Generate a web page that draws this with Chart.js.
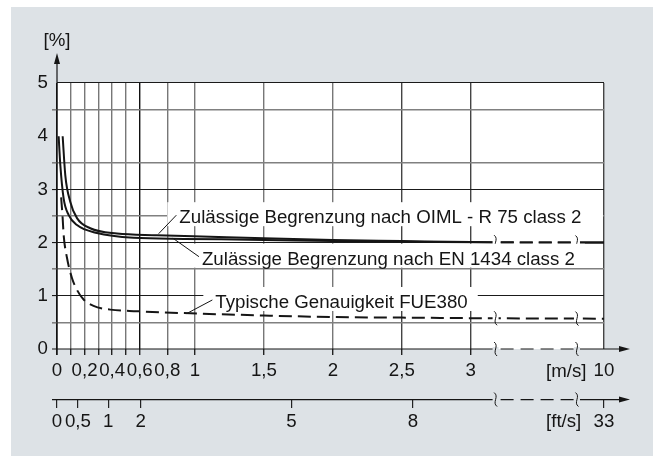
<!DOCTYPE html>
<html>
<head>
<meta charset="utf-8">
<script src="https://cdn.jsdelivr.net/npm/chart.js@4.4.1/dist/chart.umd.min.js"></script>
<style>
  html, body { margin: 0; padding: 0; background: #fff; }
  canvas { display: block; }
</style>
</head>
<body>
<canvas id="chart" width="653" height="456"></canvas>
<script>
// values: flow speed in m/s, error in %
const oimlSpeed = [0.041, 0.06, 0.096, 0.145, 0.241, 0.435, 0.725, 1.11, 1.5, 2, 2.5, 3, 10];
const oimlError = [4.0, 3.27, 2.77, 2.46, 2.27, 2.17, 2.14, 2.11, 2.08, 2.05, 2.03, 2.01, 2.0];
const enSpeed = [0.012, 0.024, 0.048, 0.084, 0.145, 0.29, 0.555, 0.92, 1.5, 2, 2.5, 3, 10];
const enError = [4.0, 3.46, 2.83, 2.52, 2.33, 2.18, 2.09, 2.07, 2.05, 2.03, 2.015, 2.005, 2.0];
const typSpeed = [0.03, 0.041, 0.048, 0.072, 0.109, 0.145, 0.193, 0.265, 0.386, 0.58, 0.915, 1.5, 2, 2.5, 3, 10];
const typError = [2.85, 2.46, 2.15, 1.72, 1.33, 1.11, 0.93, 0.81, 0.74, 0.71, 0.675, 0.63, 0.6, 0.59, 0.58, 0.57];

const msTicks = [0, 0.1, 0.2, 0.3, 0.4, 0.5, 0.6, 0.8, 1, 1.5, 2, 2.5, 3, 10];
const msLabels = ['0', '', '0,2', '', '0,4', '', '0,6', '0,8', '1', '1,5', '2', '2,5', '3', '10'];
const ftLabels = ['0', '0,5', '1', '2', '5', '8', '33'];
const ftTickAt = [0, 0.152, 0.372, 0.606, 1.7, 2.58, 10]; // where the ft/s ticks sit, in m/s
const pctTicks = [0, 0.5, 1, 1.5, 2, 2.5, 3, 3.5, 4, 4.5, 5];

const notes = [
  { text: 'Zulässige Begrenzung nach OIML - R 75 class 2', at: [0.737, 2.167], textAt: [0.887, 2.365], toEdge: true },
  { text: 'Zulässige Begrenzung nach EN 1434 class 2', at: [0.84, 2.083], textAt: [1.051, 1.585] },
  { text: 'Typische Genauigkeit FUE380', at: [0.941, 0.667], textAt: [1.148, 0.771] },
];

// the axis is linear up to 3 m/s, then broken; 10 m/s sits at the right edge
const TEN_AT = 3.966;
const BREAKS = [3.18, 3.77];
const FT_AXIS_AT = -0.95;
const axisX = (v) => (v <= 3 ? v : 3 + ((v - 3) * (TEN_AT - 3)) / 7);

const FONT = "'Liberation Sans', Arial, sans-serif";
const FONT_SIZE = 18.7;
const INK = '#151515';
const PANEL = '#dde2e6';
const BREAK_DASH = [24, 6, 13, 6, 13, 6, 13, 6, 13, 5, 60];

const toPoints = (xs, ys) => xs.map((v, i) => ({ x: axisX(v), y: ys[i] }));

const panelPlugin = {
  id: 'panel',
  beforeDraw(chart) {
    const { ctx, chartArea: a } = chart;
    ctx.save();
    ctx.fillStyle = '#fff';
    ctx.fillRect(0, 0, chart.width, chart.height);
    ctx.fillStyle = PANEL;
    ctx.fillRect(11, 7, chart.width - 11, chart.height - 7);
    ctx.fillStyle = '#fff';
    ctx.fillRect(a.left, a.top, a.right - a.left, a.bottom - a.top);
    ctx.restore();
  },
  beforeDatasetsDraw(chart) {
    // the 2 % grid line is interrupted inside the axis break
    const { ctx } = chart;
    const xs = chart.scales.x, ys = chart.scales.y;
    const y2 = ys.getPixelForValue(2);
    ctx.save();
    ctx.fillStyle = '#fff';
    ctx.fillRect(xs.getPixelForValue(BREAKS[0]), y2 - 1.5, xs.getPixelForValue(BREAKS[1]) - xs.getPixelForValue(BREAKS[0]), 3);
    ctx.restore();
  },
};

function squiggle(ctx, x, y, bg) {
  ctx.fillStyle = bg;
  ctx.fillRect(x - 3, y - 2, 6, 4);
  ctx.beginPath();
  ctx.moveTo(x - 1.5, y - 7);
  ctx.bezierCurveTo(x + 4, y - 3, x - 4, y + 3, x + 1.5, y + 7);
  ctx.stroke();
}

function brokenAxis(ctx, x0, xa, xb, x1, y) {
  ctx.setLineDash([]);
  ctx.beginPath();
  ctx.moveTo(x0, y); ctx.lineTo(xa, y);
  ctx.moveTo(xb, y); ctx.lineTo(x1 - 8, y);
  ctx.stroke();
  ctx.setLineDash([13, 7]);
  ctx.beginPath();
  ctx.moveTo(xa + 5, y); ctx.lineTo(xb - 3, y);
  ctx.stroke();
  ctx.setLineDash([]);
  ctx.beginPath();
  ctx.moveTo(x1, y); ctx.lineTo(x1 - 11, y - 3); ctx.lineTo(x1 - 11, y + 3);
  ctx.closePath();
  ctx.fill();
}

const overlayPlugin = {
  id: 'overlay',
  afterDraw(chart) {
    const { ctx, chartArea: a } = chart;
    const xs = chart.scales.x, ys = chart.scales.y;
    const xa = xs.getPixelForValue(BREAKS[0]);
    const xb = xs.getPixelForValue(BREAKS[1]);
    const y0 = ys.getPixelForValue(0);
    const yFt = ys.getPixelForValue(FT_AXIS_AT);
    const arrowX = a.right + 26;

    ctx.save();
    ctx.strokeStyle = INK;
    ctx.fillStyle = INK;
    ctx.lineWidth = 1.2;

    // y axis with arrow
    ctx.beginPath();
    ctx.moveTo(a.left, y0 + 6);
    ctx.lineTo(a.left, a.top - 20);
    ctx.stroke();
    ctx.beginPath();
    ctx.moveTo(a.left, a.top - 30);
    ctx.lineTo(a.left - 3, a.top - 19);
    ctx.lineTo(a.left + 3, a.top - 19);
    ctx.closePath();
    ctx.fill();

    // both speed axes, broken between 3 and 10 m/s
    brokenAxis(ctx, a.left - 5, xa, xb, arrowX, y0);
    brokenAxis(ctx, a.left - 5, xa, xb, arrowX, yFt);

    // break marks on the axes and on the curves
    ctx.lineWidth = 1;
    for (const xp of [xa, xb]) {
      squiggle(ctx, xp, y0, PANEL);
      squiggle(ctx, xp, yFt, PANEL);
      for (const di of [0, 2]) {
        const pts = chart.getDatasetMeta(di).data;
        const p = pts[pts.length - 2], q = pts[pts.length - 1];
        const yp = p.y + ((q.y - p.y) * (xp - p.x)) / (q.x - p.x);
        ctx.strokeStyle = INK;
        squiggle(ctx, xp, yp, '#fff');
      }
    }

    // notes with leader lines
    ctx.font = FONT_SIZE + 'px ' + FONT;
    ctx.textBaseline = 'alphabetic';
    ctx.textAlign = 'left';
    for (const n of notes) {
      const tx = xs.getPixelForValue(n.textAt[0]);
      const ty = ys.getPixelForValue(n.textAt[1]);
      const w = ctx.measureText(n.text).width;
      const right = n.toEdge ? a.right - 1 : tx + w + 10;
      ctx.fillStyle = '#fff';
      ctx.fillRect(tx - 12, ty - 21, right - tx + 12, 24);
      ctx.fillStyle = INK;
      ctx.fillText(n.text, tx, ty);
      ctx.beginPath();
      ctx.moveTo(tx - 3, ty - 8);
      ctx.lineTo(xs.getPixelForValue(n.at[0]), ys.getPixelForValue(n.at[1]));
      ctx.stroke();
    }

    // unit labels
    ctx.fillText('[m/s]', 546, y0 + 27.5);
    ctx.fillText('[ft/s]', 546, yFt + 27.5);
    ctx.textAlign = 'center';
    ctx.fillText('[%]', a.left, a.top - 37);
    ctx.restore();
  },
};

const tickFont = { family: FONT, size: FONT_SIZE };

new Chart(document.getElementById('chart'), {
  type: 'line',
  data: {
    datasets: [
      {
        label: 'OIML - R 75 class 2',
        data: toPoints(oimlSpeed, oimlError),
        borderColor: INK,
        borderWidth: 2,
        pointRadius: 0,
        cubicInterpolationMode: 'monotone',
        segment: { borderDash: (ctx) => (ctx.p0.parsed.x >= 3 ? BREAK_DASH : undefined) },
      },
      {
        label: 'EN 1434 class 2',
        data: toPoints(enSpeed, enError),
        borderColor: INK,
        borderWidth: 2,
        pointRadius: 0,
        cubicInterpolationMode: 'monotone',
        segment: { borderDash: (ctx) => (ctx.p0.parsed.x >= 3 ? BREAK_DASH : undefined) },
      },
      {
        label: 'Typische Genauigkeit FUE380',
        data: toPoints(typSpeed, typError),
        borderColor: INK,
        borderWidth: 2,
        borderDash: [13, 6],
        pointRadius: 0,
        cubicInterpolationMode: 'monotone',
      },
    ],
  },
  options: {
    responsive: false,
    animation: false,
    devicePixelRatio: 1,
    layout: { padding: { left: 0, top: 83, right: 49, bottom: 67 } },
    plugins: { legend: { display: false }, tooltip: { enabled: false } },
    scales: {
      x: {
        type: 'linear',
        min: 0,
        max: TEN_AT,
        afterBuildTicks: (s) => { s.ticks = msTicks.map((v) => ({ value: axisX(v) })); },
        afterFit: (s) => { s.height = 40; },
        border: { display: false },
        grid: {
          color: (c) => {
            const v = c.tick.value;
            if (v === 0 || v === 0.6) return '#111';
            if (v >= 2.5) return '#444';
            return '#777';
          },
          lineWidth: 1.4,
          tickLength: 6,
          tickColor: (c) => (c.tick.value === TEN_AT ? 'rgba(0,0,0,0)' : '#222'),
        },
        ticks: {
          autoSkip: false,
          maxRotation: 0,
          padding: 5,
          color: INK,
          font: tickFont,
          callback: (v, i) => msLabels[i],
        },
      },
      x2: {
        type: 'linear',
        position: { y: FT_AXIS_AT },
        min: 0,
        max: TEN_AT,
        afterBuildTicks: (s) => { s.ticks = ftTickAt.map((v) => ({ value: axisX(v) })); },
        border: { display: false },
        grid: { drawOnChartArea: false, tickLength: 8, color: '#222', lineWidth: 1.2 },
        ticks: {
          autoSkip: false,
          maxRotation: 0,
          padding: 3,
          color: INK,
          font: tickFont,
          callback: (v, i) => ftLabels[i],
        },
      },
      y: {
        type: 'linear',
        min: 0,
        max: 5,
        afterBuildTicks: (s) => { s.ticks = pctTicks.map((v) => ({ value: v })); },
        afterFit: (s) => { s.width = 57; },
        border: { display: false },
        grid: {
          color: (c) => {
            const v = c.tick.value;
            if (v === 0 || v === 4) return 'rgba(0,0,0,0)';
            return Number.isInteger(v) ? '#1a1a1a' : '#808080';
          },
          lineWidth: (c) => (Number.isInteger(c.tick.value) ? 1.1 : 1.6),
          tickLength: 5,
          tickColor: (c) => {
            const v = c.tick.value;
            if (v === 0 || v === 4 || v === 5) return 'rgba(0,0,0,0)';
            return Number.isInteger(v) ? '#1a1a1a' : '#808080';
          },
        },
        ticks: {
          padding: 4,
          color: INK,
          font: tickFont,
          callback: (v) => (Number.isInteger(v) ? String(v) : ''),
        },
      },
    },
  },
  plugins: [panelPlugin, overlayPlugin],
});
</script>
</body>
</html>
